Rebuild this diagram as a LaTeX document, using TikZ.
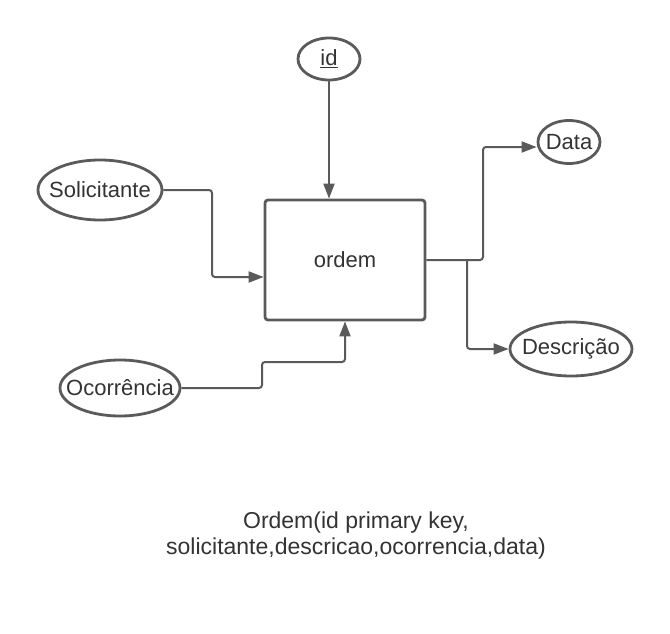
\documentclass[tikz,border=0pt]{standalone}
\usepackage{fontspec}
\setmainfont{Liberation Sans}
\usepackage{tikz}
\usetikzlibrary{arrows.meta,shapes.geometric,positioning}
\definecolor{linegray}{HTML}{5A5A5A}
\definecolor{textgray}{HTML}{333333}

\begin{document}
\begin{tikzpicture}[x=1pt,y=-1pt,
    attr/.style={ellipse,draw=linegray,line width=2.8pt,inner sep=0pt,text=textgray,
                 execute at begin node={\hbox to 0pt\bgroup\hss},
                 execute at end node={\hss\egroup}},
    entity/.style={rectangle,draw=linegray,line width=2.8pt,rounded corners=3pt,
                   minimum width=160pt,minimum height=120pt,text=textgray},
    conn/.style={draw=linegray,line width=2pt,rounded corners=3pt,
                 -{Triangle[length=15pt,width=11pt]}}]
\useasboundingbox (0,0) rectangle (670,634);
\begin{scope}[every node/.style={font=\fontsize{22}{25}\selectfont}]
    \node[entity] (Ordem) at (345,260) {ordem};
    \node[attr,minimum width=62pt,minimum height=42pt] (Id) at (329,59) {\underline{id}};
    \node[attr,minimum width=124pt,minimum height=60pt] (Solicitante) at (100,190) {Solicitante};
    \node[attr,minimum width=120pt,minimum height=56pt] (Ocorrencia) at (120,388) {Ocorrência};
    \node[attr,minimum width=62pt,minimum height=43pt] (Data) at (569,142) {Data};
    \node[attr,minimum width=122pt,minimum height=54pt] (Descricao) at (571,349) {Descrição};
    \node[text=textgray,align=center,font=\fontsize{23}{26}\selectfont] (Esquema) at (356,536)
        {Ordem(id primary key,\\solicitante,descricao,ocorrencia,data)};
\end{scope}

\coordinate (split) at (467,260);

\begin{scope}[every path/.style={conn}]
    \path (Id) -- (Id |- Ordem.north);
    \path (Solicitante.east) -| (212,277) -- ([yshift=-17pt]Ordem.west);
    \path (Ocorrencia.east) -| (262,362) -| (Ordem.south);
    \path (Ordem.east) -| (483,147) -- ([yshift=-5pt]Data.west);
    \path (split) |- (Descricao.west);
\end{scope}
\end{tikzpicture}
\end{document}
